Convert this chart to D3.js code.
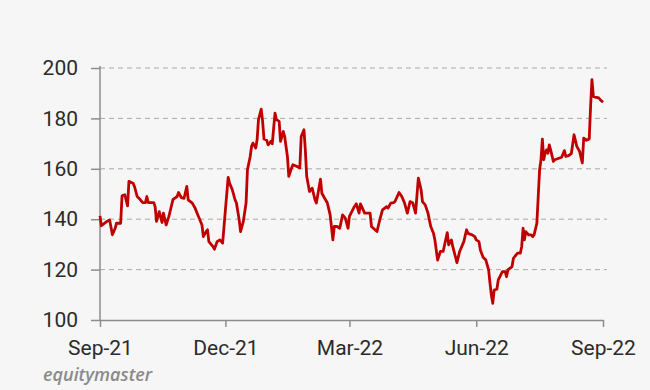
<!DOCTYPE html>
<html>
<head>
<meta charset="utf-8">
<script src="https://cdn.jsdelivr.net/npm/d3@7"></script>
<style>
  html, body { margin: 0; padding: 0; background: #f6f6f6; }
  svg { display: block; }
</style>
</head>
<body>
<div id="chart"></div>
<script>
// share price, daily closes
var dates = [
 "2021-09-01","2021-09-02","2021-09-06","2021-09-08","2021-09-10","2021-09-12","2021-09-13","2021-09-16","2021-09-17","2021-09-19",
 "2021-09-21","2021-09-22","2021-09-25","2021-09-26","2021-09-28","2021-09-30","2021-10-02","2021-10-04","2021-10-05","2021-10-06",
 "2021-10-10","2021-10-11","2021-10-12","2021-10-14","2021-10-16","2021-10-17","2021-10-19","2021-10-21","2021-10-24","2021-10-27",
 "2021-10-28","2021-10-30","2021-11-01","2021-11-03","2021-11-04","2021-11-07","2021-11-09","2021-11-11","2021-11-12","2021-11-14",
 "2021-11-15","2021-11-17","2021-11-18","2021-11-19","2021-11-22","2021-11-23","2021-11-25","2021-11-27","2021-11-29","2021-12-01",
 "2021-12-03","2021-12-04","2021-12-06","2021-12-08","2021-12-09","2021-12-11","2021-12-12","2021-12-14","2021-12-16","2021-12-17",
 "2021-12-19","2021-12-20","2021-12-21","2021-12-23","2021-12-24","2021-12-25","2021-12-27","2021-12-28","2021-12-29","2021-12-31",
 "2022-01-01","2022-01-03","2022-01-04","2022-01-06","2022-01-07","2022-01-09","2022-01-10","2022-01-12","2022-01-13","2022-01-15",
 "2022-01-16","2022-01-18","2022-01-19","2022-01-22","2022-01-24","2022-01-25","2022-01-27","2022-01-28","2022-01-29","2022-01-31",
 "2022-02-02","2022-02-04","2022-02-05","2022-02-08","2022-02-09","2022-02-11","2022-02-13","2022-02-15","2022-02-17","2022-02-18",
 "2022-02-20","2022-02-22","2022-02-24","2022-02-26","2022-02-28","2022-03-01","2022-03-04","2022-03-06","2022-03-08","2022-03-09",
 "2022-03-12","2022-03-16","2022-03-17","2022-03-21","2022-03-23","2022-03-25","2022-03-28","2022-03-29","2022-03-31","2022-04-02",
 "2022-04-03","2022-04-06","2022-04-08","2022-04-10","2022-04-12","2022-04-14","2022-04-16","2022-04-18","2022-04-20","2022-04-22",
 "2022-04-23","2022-04-25","2022-04-27","2022-04-29","2022-05-01","2022-05-02","2022-05-03","2022-05-04","2022-05-06","2022-05-08",
 "2022-05-11","2022-05-12","2022-05-14","2022-05-15","2022-05-18","2022-05-20","2022-05-23","2022-05-25","2022-05-26","2022-05-29",
 "2022-05-31","2022-06-01","2022-06-03","2022-06-04","2022-06-06","2022-06-08","2022-06-10","2022-06-11","2022-06-12","2022-06-13",
 "2022-06-14","2022-06-16","2022-06-17","2022-06-20","2022-06-22","2022-06-23","2022-06-24","2022-06-27","2022-06-28","2022-06-29",
 "2022-07-01","2022-07-03","2022-07-04","2022-07-05","2022-07-06","2022-07-07","2022-07-09","2022-07-11","2022-07-12","2022-07-13",
 "2022-07-15","2022-07-16","2022-07-17","2022-07-18","2022-07-19","2022-07-20","2022-07-21","2022-07-22","2022-07-23","2022-07-24",
 "2022-07-25","2022-07-27","2022-07-28","2022-07-31","2022-08-02","2022-08-04","2022-08-05","2022-08-07","2022-08-09","2022-08-11",
 "2022-08-13","2022-08-15","2022-08-17","2022-08-18","2022-08-20","2022-08-22","2022-08-23","2022-08-24","2022-08-25","2022-08-27",
 "2022-08-29","2022-08-30","2022-09-01"
];
var prices = [
 141.3,137.4,139.1,139.7,133.8,136.4,138.4,138.4,149.3,149.7,
 145.3,155.0,154.3,153.0,149.0,147.9,146.6,146.6,149.0,146.6,
 146.6,145.0,139.1,143.0,138.7,142.4,137.7,141.1,147.9,149.0,
 150.6,148.6,148.3,153.0,147.7,146.4,144.4,141.7,140.4,137.7,
 133.1,135.1,135.8,131.1,129.1,128.1,131.1,131.8,130.5,143.7,
 156.6,154.3,151.7,147.7,146.4,139.7,135.1,139.1,146.4,159.6,
 164.9,168.9,170.2,168.2,171.5,179.5,183.7,178.8,171.8,171.3,
 169.5,170.9,169.9,182.1,179.5,178.8,170.9,174.8,172.8,164.9,
 157.0,160.3,161.6,160.9,160.3,172.8,175.5,167.5,157.0,151.0,
 152.3,147.7,146.4,155.9,150.3,148.3,146.4,141.7,131.8,137.1,
 137.1,136.4,141.7,140.4,136.4,141.1,144.4,146.1,142.4,146.1,
 142.4,142.4,137.1,135.1,139.7,143.7,145.0,144.4,146.4,146.6,
 147.0,150.6,149.0,146.4,142.4,147.0,146.4,142.4,156.3,151.7,
 147.0,145.7,142.4,137.1,134.4,131.8,127.8,123.8,127.2,127.2,
 134.7,129.8,131.8,129.1,122.8,127.2,131.1,135.8,134.4,133.8,
 133.1,131.8,131.1,127.8,124.9,123.8,119.9,114.6,109.9,106.6,
 111.9,112.2,115.9,119.2,119.2,117.2,119.9,121.2,124.5,125.2,
 126.5,126.5,129.1,136.4,131.8,135.1,133.8,133.8,133.1,133.8,
 138.4,149.0,159.6,163.6,171.8,163.6,166.2,167.5,166.2,169.5,
 167.5,162.9,163.6,164.2,164.6,167.2,164.9,165.2,166.0,173.5,
 168.9,166.9,162.3,172.2,171.3,171.8,184.8,195.4,188.7,188.3,
 188.1,187.4,186.4
];
var yTicks = [100, 120, 140, 160, 180, 200];
var xTickDates = ["2021-09-01", "2021-12-01", "2022-03-01", "2022-06-01", "2022-09-01"];

var W = 650, H = 390;
var margin = {top: 68, right: 47, bottom: 70, left: 100},
    width = W - margin.left - margin.right,
    height = H - margin.top - margin.bottom;

var parse = d3.timeParse("%Y-%m-%d");
var data = dates.map(function(d, i) { return {t: parse(d), c: prices[i]}; });

var svg = d3.select("#chart")
  .append("svg")
    .attr("width", W)
    .attr("height", H)
    .style("background", "#f6f6f6");

var g = svg.append("g")
    .attr("transform", "translate(" + margin.left + "," + margin.top + ")");

var x = d3.scaleTime()
  .domain([parse(xTickDates[0]), parse(xTickDates[xTickDates.length - 1])])
  .range([0, width]);

var y = d3.scaleLinear()
  .domain([100, 200])
  .range([height, 0]);

// dashed grid
g.append("g")
  .selectAll("line")
  .data(yTicks.slice(1))
  .enter().append("line")
    .attr("x1", 0)
    .attr("x2", width + 4)
    .attr("y1", function(d) { return y(d); })
    .attr("y2", function(d) { return y(d); })
    .attr("stroke", "#a9a9a9")
    .attr("stroke-width", 1)
    .attr("stroke-dasharray", "5,4");

// y axis
var yAxis = g.append("g")
  .call(d3.axisLeft(y).tickValues(yTicks).tickSize(9).tickPadding(13).tickSizeOuter(0));
yAxis.select(".domain").remove();
yAxis.append("line")
  .attr("x1", 0).attr("x2", 0)
  .attr("y1", -2).attr("y2", height)
  .attr("stroke", "#8c8c8c").attr("stroke-width", 1.5);

// x axis
var xAxis = g.append("g")
  .attr("transform", "translate(0," + height + ")")
  .call(d3.axisBottom(x)
    .tickValues(xTickDates.map(parse))
    .tickFormat(d3.timeFormat("%b-%y"))
    .tickSize(7).tickPadding(13).tickSizeOuter(0));
xAxis.select(".domain")
  .attr("stroke", "#8c8c8c").attr("stroke-width", 1.5);

svg.selectAll(".tick line").attr("stroke", "#8c8c8c").attr("stroke-width", 1.5);
svg.selectAll(".tick text")
  .attr("fill", "#2b2b2b")
  .style("font-family", "Roboto, 'Noto Sans', sans-serif")
  .style("font-size", "21px");

// the price line
g.append("path")
  .datum(data)
  .attr("fill", "none")
  .attr("stroke", "#c00000")
  .attr("stroke-width", 2.8)
  .attr("stroke-linejoin", "round")
  .attr("d", d3.line()
    .x(function(d) { return x(d.t); })
    .y(function(d) { return y(d.c); }));

// watermark
svg.append("text")
  .attr("x", 43)
  .attr("y", 381)
  .attr("fill", "#8a8a8a")
  .style("font-family", "'Open Sans', sans-serif")
  .style("font-style", "italic")
  .style("font-weight", 600)
  .style("font-size", "18px")
  .text("equitymaster");
</script>
</body>
</html>
